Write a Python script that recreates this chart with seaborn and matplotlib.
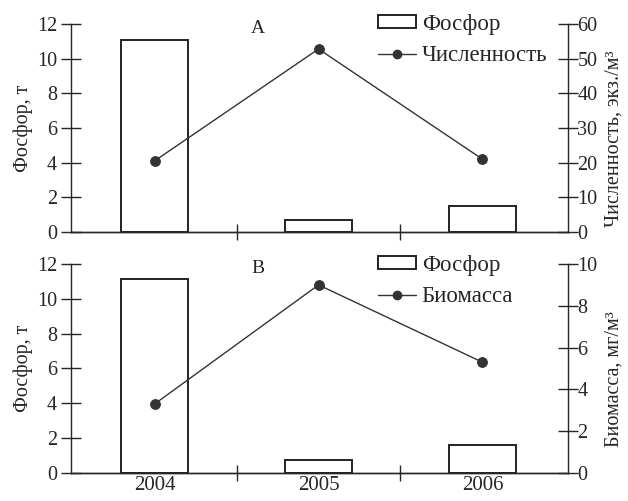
import matplotlib
matplotlib.use("Agg")
import seaborn as sns
from matplotlib import pyplot as plt
from matplotlib.patches import Patch
from matplotlib.lines import Line2D

years = ["2004", "2005", "2006"]
phosphorus_a = [11.1, 0.7, 1.5]
abundance = [20.5, 52.8, 21.0]
phosphorus_b = [11.15, 0.73, 1.58]
biomass = [3.3, 9.0, 5.3]

sns.set_theme(style="ticks")
plt.rcParams["font.family"] = ["Liberation Serif", "DejaVu Serif"]
plt.rcParams["axes.linewidth"] = 1.0

fig = plt.figure(figsize=(6.28, 5.01), dpi=100)
ax_a = fig.add_axes([0.113, 0.537, 0.791, 0.415])
ax_b = fig.add_axes([0.113, 0.056, 0.791, 0.417])

# axes, phosphorus, series, letter, legend name, right label, right max, step, legend top
panels = [
    (ax_a, phosphorus_a, abundance, "А", "Численность", "Численность, экз./м³", 60, 10, 1.05),
    (ax_b, phosphorus_b, biomass, "В", "Биомасса", "Биомасса, мг/м³", 10, 2, 1.045),
]

for ax, phos, series, letter, name, rlabel, rmax, rstep, leg_y in panels:
    sns.barplot(x=years, y=phos, ax=ax, fill=False, color="black",
                width=0.41, linewidth=1.4, err_kws={"linewidth": 0})
    for p in ax.patches:
        p.set_edgecolor("#222222")
    ax.set_xlim(-0.51, 2.52)
    ax.set_ylim(0, 12)
    ax.set_yticks(range(0, 13, 2))
    ax.set_xticks([0.5, 1.5], minor=True)
    ax.set_xticks([])
    ax.set_ylabel("Фосфор, т", fontsize=14.5, labelpad=3)
    ax.tick_params(axis="y", direction="inout", length=14, width=1, labelsize=14.5, pad=3)
    ax.tick_params(axis="x", which="minor", direction="inout", length=12, width=1)
    ax.spines["top"].set_visible(False)
    ax.spines["right"].set_visible(False)

    ax2 = ax.twinx()
    sns.pointplot(x=years, y=series, ax=ax2, color="#333333", markers="o",
                  markersize=7, linewidth=1.0, errorbar=None)
    ax2.set_xlim(-0.51, 2.52)
    ax2.set_ylim(0, rmax)
    ax2.set_yticks(range(0, rmax + 1, rstep))
    ax2.set_ylabel(rlabel, fontsize=14.5, labelpad=3)
    ax2.yaxis.set_label_coords(1.075, 0.45)
    ax2.tick_params(axis="y", direction="inout", length=14, width=1, labelsize=14.5, pad=0)
    for s in ("top", "left"):
        ax2.spines[s].set_visible(False)

    ax.text(0.376, 0.98, letter, transform=ax.transAxes, ha="center", va="center", fontsize=14)

    handles = [Patch(facecolor="white", edgecolor="#222222", linewidth=1.4),
               Line2D([], [], color="#333333", marker="o", markersize=6, linewidth=1.0)]
    ax2.legend(handles, ["Фосфор", name], loc="upper left", bbox_to_anchor=(0.618, leg_y),
               frameon=False, fontsize=16.5, handlelength=1.65, handleheight=0.45,
               handletextpad=0.26, labelspacing=0.45, borderaxespad=0, borderpad=0)

ax_a.set_xticklabels([])
ax_b.set_xticks(range(3))
ax_b.set_xticklabels(years, fontsize=15)
ax_b.tick_params(axis="x", which="major", length=0, pad=2)

fig.savefig("out.png", dpi=100)
